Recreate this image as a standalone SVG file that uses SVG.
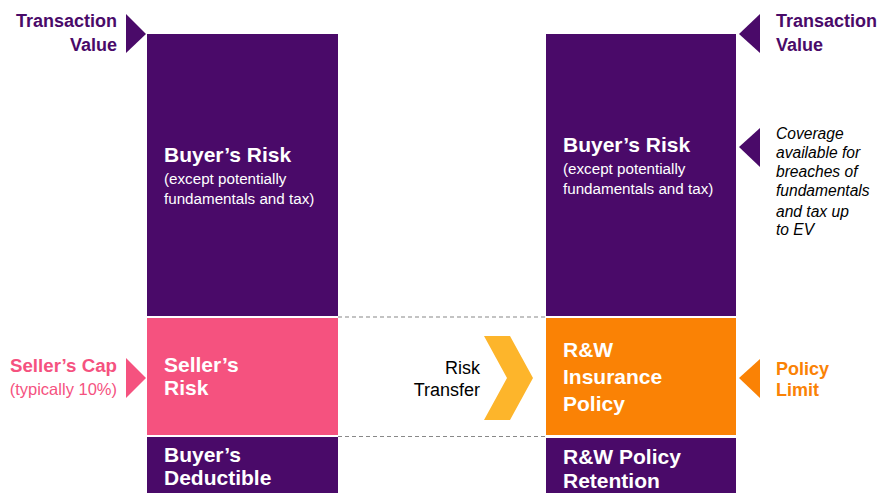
<svg xmlns="http://www.w3.org/2000/svg" width="882" height="493" viewBox="0 0 882 493">
<style>
text{font-family:"Liberation Sans",Arial,sans-serif}
.purple{fill:#4A0A69}
.pink{fill:#F5527F}
.orange{fill:#FA8205}
.t{fill:#fff;font-weight:bold;font-size:21px}
.s{fill:#fff;font-size:15.2px}
.lp{fill:#4A0A69;font-weight:bold;font-size:18px}
.cov{fill:#000;font-style:italic;font-size:15.6px}
.dash{stroke:#888;stroke-width:1.2;stroke-dasharray:4 3;fill:none}
</style>
<rect width="882" height="493" fill="#fff"/>
<g id="connectors">
<line class="dash" x1="338" y1="317" x2="546" y2="317"/>
<line class="dash" x1="338" y1="436.5" x2="546" y2="436.5"/>
</g>
<g id="left-buyers-risk">
<rect class="purple" x="147" y="34" width="191" height="282"/>
<text class="t" x="164" y="162">Buyer’s Risk</text>
<text class="s" x="164" y="184">(except potentially</text>
<text class="s" x="164" y="204">fundamentals and tax)</text>
</g>
<g id="sellers-risk">
<rect class="pink" x="147" y="318" width="191" height="117"/>
<text class="t" x="164" y="372">Seller’s</text>
<text class="t" x="164" y="395">Risk</text>
</g>
<g id="buyers-deductible">
<rect class="purple" x="147" y="437" width="191" height="56"/>
<text class="t" x="164" y="462">Buyer’s</text>
<text class="t" x="164" y="485">Deductible</text>
</g>
<g id="right-buyers-risk">
<rect class="purple" x="546" y="34" width="190" height="282"/>
<text class="t" x="563" y="152">Buyer’s Risk</text>
<text class="s" x="563" y="174">(except potentially</text>
<text class="s" x="563" y="194">fundamentals and tax)</text>
</g>
<g id="rw-insurance-policy">
<rect class="orange" x="546" y="318" width="190" height="117"/>
<text class="t" x="563" y="357">R&amp;W</text>
<text class="t" x="563" y="384">Insurance</text>
<text class="t" x="563" y="411">Policy</text>
</g>
<g id="rw-policy-retention">
<rect class="purple" x="546" y="438" width="190" height="55"/>
<text class="t" x="563" y="464">R&amp;W Policy</text>
<text class="t" x="563" y="488">Retention</text>
</g>
<g id="left-transaction-value">
<polygon class="purple" points="126,14 146,34 126,53"/>
<text class="lp" x="117" y="27" text-anchor="end">Transaction</text>
<text class="lp" x="117" y="51" text-anchor="end">Value</text>
</g>
<g id="sellers-cap">
<polygon class="pink" points="126,358 146,378 126,398"/>
<text class="lp" x="117" y="372" text-anchor="end" style="fill:#F5527F;font-size:18.7px">Seller’s Cap</text>
<text x="117" y="395" text-anchor="end" style="fill:#F5527F;font-size:16.5px">(typically 10%)</text>
</g>
<g id="risk-transfer">
<polygon points="484,336 510,336 533,378 510,420 484,420 507,378" fill="#FDB52B"/>
<text x="480" y="374" text-anchor="end" style="font-size:18px;fill:#000">Risk</text>
<text x="480" y="396" text-anchor="end" style="font-size:18px;fill:#000">Transfer</text>
</g>
<g id="right-transaction-value">
<polygon class="purple" points="760,14 739,34 760,53"/>
<text class="lp" x="776" y="27">Transaction</text>
<text class="lp" x="776" y="51">Value</text>
</g>
<g id="coverage">
<polygon class="purple" points="760,128 739,147 760,167"/>
<text class="cov" x="776" y="139">Coverage</text>
<text class="cov" x="776" y="158">available for</text>
<text class="cov" x="776" y="177">breaches of</text>
<text class="cov" x="776" y="196">fundamentals</text>
<text class="cov" x="776" y="217">and tax up</text>
<text class="cov" x="776" y="235">to EV</text>
</g>
<g id="policy-limit">
<polygon class="orange" points="760,359 739,378 760,398"/>
<text class="lp" x="776" y="375" style="fill:#FA8205">Policy</text>
<text class="lp" x="776" y="396" style="fill:#FA8205">Limit</text>
</g>
</svg>
